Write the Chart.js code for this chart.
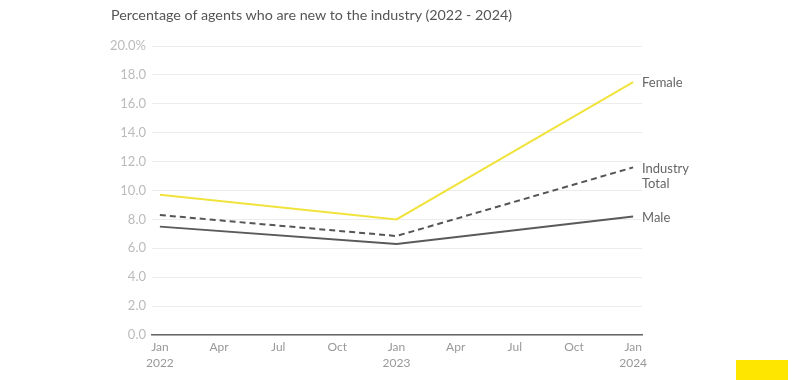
<!DOCTYPE html>
<html>
<head>
<meta charset="utf-8">
<script src="https://cdn.jsdelivr.net/npm/chart.js@4/dist/chart.umd.min.js"></script>
<style>
html,body{margin:0;padding:0;background:#fff;}
#wrap{position:relative;width:800px;height:380px;}
#title{position:absolute;left:111px;top:6px;font-family:Lato,sans-serif;font-size:14.3px;color:#555;white-space:nowrap;}
#box{position:absolute;left:736px;top:360px;width:52px;height:20px;background:#ffe600;}
canvas{position:absolute;left:0;top:0;}
</style>
</head>
<body>
<div id="wrap">
<canvas id="c" width="800" height="380"></canvas>
<div id="title">Percentage of agents who are new to the industry (2022 - 2024)</div>
<div id="box"></div>
</div>
<script>
// months since Jan 2022
const months = [0, 12, 24];
const female = [9.7, 8.0, 17.5];
const industryTotal = [8.3, 6.85, 11.6];
const male = [7.5, 6.3, 8.2];
const xTickMonths = [0, 3, 6, 9, 12, 15, 18, 21, 24];
const xTickLabels = [["Jan","2022"], "Apr", "Jul", "Oct", ["Jan","2023"], "Apr", "Jul", "Oct", ["Jan","2024"]];
const seriesNames = ["Female", ["Industry", "Total"], "Male"];

const pts = arr => arr.map((v, i) => ({x: months[i], y: v}));

const endLabels = {
  id: 'endLabels',
  afterDatasetsDraw(chart) {
    const ctx = chart.ctx;
    ctx.save();
    ctx.font = '13px Lato, sans-serif';
    ctx.fillStyle = '#666';
    ctx.textBaseline = 'middle';
    ctx.textAlign = 'left';
    const x = chart.chartArea.right;
    chart.data.datasets.forEach((ds, i) => {
      const meta = chart.getDatasetMeta(i);
      const last = meta.data[meta.data.length - 1];
      const name = seriesNames[i];
      if (Array.isArray(name)) {
        name.forEach((t, j) => ctx.fillText(t, x, last.y + 1 + j * 15));
      } else {
        ctx.fillText(name, x, last.y + 1);
      }
    });
    ctx.restore();
  }
};

new Chart(document.getElementById('c'), {
  type: 'line',
  data: {
    datasets: [
      {data: pts(female), borderColor: '#f0e33c', borderWidth: 2, pointRadius: 0, tension: 0},
      {data: pts(industryTotal), borderColor: '#555', borderWidth: 2, borderDash: [6, 4], pointRadius: 0, tension: 0},
      {data: pts(male), borderColor: '#5a5a5a', borderWidth: 2, pointRadius: 0, tension: 0}
    ]
  },
  options: {
    responsive: false,
    animation: false,
    layout: {padding: {top: 46, right: 158, left: 0, bottom: 0}},
    plugins: {legend: {display: false}, tooltip: {enabled: false}, title: {display: false}},
    scales: {
      x: {
        type: 'linear',
        min: -0.4,
        max: 24.45,
        afterBuildTicks: s => { s.ticks = xTickMonths.map(v => ({value: v})); },
        afterFit: s => { s.height = 45; },
        grid: {display: false, drawTicks: false},
        border: {display: true, color: '#666', width: 1.5},
        ticks: {
          color: '#999',
          font: {family: 'Lato, sans-serif', size: 12, lineHeight: 1.35},
          padding: 4,
          maxRotation: 0,
          autoSkip: false,
          callback: (v) => { const i = xTickMonths.indexOf(v); return i >= 0 ? xTickLabels[i] : ''; }
        }
      },
      y: {
        min: 0,
        max: 20,
        afterFit: s => { s.width = 152; },
        grid: {color: '#ececec', drawTicks: false},
        border: {display: false},
        ticks: {
          stepSize: 2,
          color: '#bbb',
          padding: 6,
          font: {family: 'Lato, sans-serif', size: 13},
          callback: v => v === 20 ? '20.0%' : v.toFixed(1)
        }
      }
    }
  },
  plugins: [endLabels]
});
</script>
</body>
</html>
